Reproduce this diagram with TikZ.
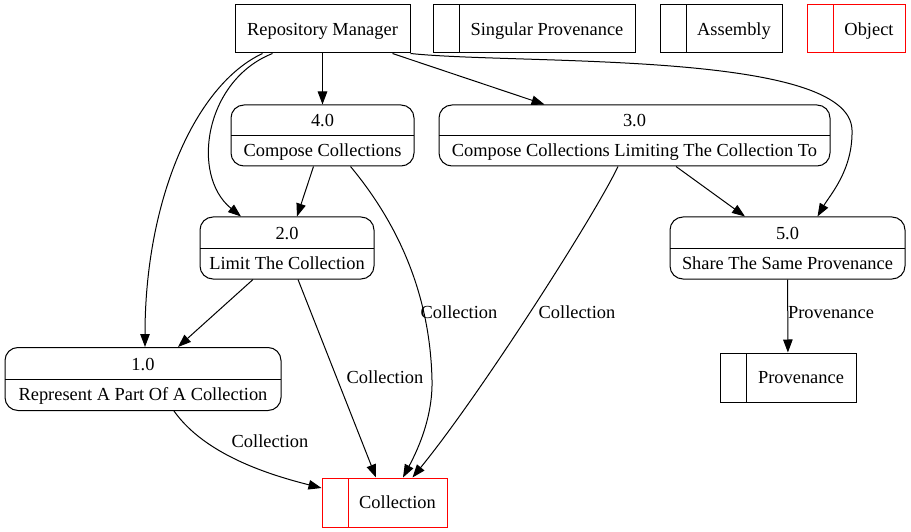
\documentclass[tikz,border=0pt]{standalone}
\usepackage{fontspec}
\setmainfont{Liberation Serif}
\usetikzlibrary{
	arrows.meta,
	calc,
	positioning,
}
\tikzset{ext/.style={draw,rectangle,inner sep=0pt,minimum height=48pt,line width=1pt,}}
\tikzset{store/.style={draw=#1,rectangle,inner sep=0pt,minimum height=48pt,line width=1pt,
	execute at begin node={\hspace*{26pt}},
	path picture={\draw[#1,line width=1pt] ([xshift=26pt]path picture bounding box.north west) -- ([xshift=26pt]path picture bounding box.south west);},}}
\tikzset{store/.default=black}
\tikzset{proc/.style={draw,rounded corners=13pt,align=center,inner sep=0pt,line width=1pt,font=\fontsize{18.4}{30}\selectfont,
	path picture={\draw[line width=1pt] (path picture bounding box.west) -- (path picture bounding box.east);},}}
\tikzset{flow/.style={->,line width=1pt,}}
\tikzset{elabel/.style={inner sep=0pt,}}
\tikzset{
	>={Triangle[length=13pt,width=9.5pt]},
	every node/.style={font=\fontsize{18.4}{22}\selectfont,text depth=0pt},
}

\begin{document}
\begin{tikzpicture}[x=1pt,y=-1pt]
\useasboundingbox (0,0) rectangle (911,532);

% entity and stores
\node[ext,minimum width=175pt](rm) at (322.5,29) {Repository Manager};
\node[store,minimum width=202pt](singprov) at (534,29) {Singular Provenance};
\node[store,minimum width=122pt](assembly) at (721,29) {Assembly};
\node[store=red,minimum width=98pt](object) at (856,29) {Object};

% processes
\node[proc,minimum width=183pt,minimum height=61pt](p4) at (322.5,135.5) {4.0\\Compose Collections};
\node[proc,minimum width=391pt,minimum height=61pt](p3) at (634.5,135.5) {3.0\\Compose Collections Limiting The Collection To};
\node[proc,minimum width=174pt,minimum height=62pt](p2) at (287,248) {2.0\\Limit The Collection};
\node[proc,minimum width=235pt,minimum height=62pt](p5) at (787.5,248) {5.0\\Share The Same Provenance};
\node[proc,minimum width=276pt,minimum height=63pt](p1) at (143,379) {1.0\\Represent A Part Of A Collection};

\node[store=red,minimum width=125pt,minimum height=49pt](coll) at (384.5,502.5) {Collection};
\node[store,minimum width=136pt,minimum height=49pt](prov) at (788,377.5) {Provenance};

% flows
\draw[flow] (rm) -- (p4);
\draw[flow] ([xshift=-18pt]rm.south east) -- ([xshift=-90pt]p3.north);
\draw[flow] (rm.south east) .. controls (520,65) and (850,50) .. (852,130) .. controls (853,170) and (830,195) .. ([xshift=30pt]p5.north);
\draw[flow] ([xshift=-50pt]rm.south) .. controls (205,80) and (190,175) .. ([xshift=-46pt]p2.north);
\draw[flow] ([xshift=-60pt]rm.south) .. controls (195,85) and (145,200) .. ([xshift=2pt]p1.north);
\draw[flow] ([xshift=-9pt]p4.south) -- ([xshift=10pt]p2.north);
\draw[flow] ([xshift=28pt]p4.south) .. controls (395,220) and (430,290) .. (432,380) .. controls (433,420) and (415,455) .. ([xshift=18.5pt]coll.north);
\draw[flow] ([xshift=-16.5pt]p3.south) .. controls (595,215) and (480,395) .. ([xshift=28pt]coll.north);
\draw[flow] ([xshift=41.5pt]p3.south) -- ([xshift=-42.5pt]p5.north);
\draw[flow] ([xshift=-34pt]p2.south) -- ([xshift=35pt]p1.north);
\draw[flow] ([xshift=11pt]p2.south) -- ([xshift=-8.5pt]coll.north);
\draw[flow] ([xshift=31pt]p1.south) .. controls (205,455) and (270,475) .. ([yshift=14.5pt]coll.west);
\draw[flow] (p5) -- (prov);

% flow labels
\node[elabel](lab4) at (459,312) {Collection};
\node[elabel](lab3) at (577,312) {Collection};
\node[elabel](lab2) at (385,377) {Collection};
\node[elabel](lab1) at (270,441) {Collection};
\node[elabel](lab5) at (831,312) {Provenance};

\end{tikzpicture}
\end{document}
